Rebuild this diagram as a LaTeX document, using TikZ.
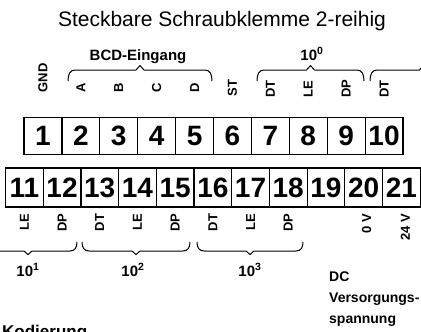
\documentclass[tikz,border=0pt]{standalone}
\usepackage{fontspec}
\setmainfont{Liberation Sans}
\usetikzlibrary{positioning,calc}

\tikzset{
  klemme/.style={draw,line width=1.2pt,minimum width=37.9pt,minimum height=37pt,inner sep=0pt,
    text height=20pt,text depth=0pt,font=\fontsize{28}{28}\selectfont\bfseries},
  pinlbl/.style={rotate=90,inner sep=0pt,font=\fontsize{13}{13}\selectfont\bfseries},
  grplbl/.style={inner sep=0pt,font=\fontsize{15}{15}\selectfont\bfseries},
  klammerlinie/.style={line width=1pt,line join=round}
}

% #1 x links, #2 x rechts, #3 y der Enden, #4 Hoehe (negativ = nach oben)
\newcommand{\klammer}[4]{%
  \draw[klammerlinie] (#1,#3)
    .. controls (#1,{#3+0.6*(#4)}) and ({#1+2},{#3+(#4)}) .. ({#1+7},{#3+(#4)})
    -- ({(#1+#2)/2-4},{#3+(#4)}) -- ({(#1+#2)/2},{#3+1.4*(#4)}) -- ({(#1+#2)/2+4},{#3+(#4)})
    -- ({#2-7},{#3+(#4)})
    .. controls ({#2-2},{#3+(#4)}) and (#2,{#3+0.6*(#4)}) .. (#2,#3);}

\begin{document}
\begin{tikzpicture}[x=1pt,y=-1pt]
  \useasboundingbox (0,0) rectangle (421,332);
  % Titel
  \node[anchor=base,inner sep=0pt,font=\fontsize{21}{21}\selectfont] (titel) at (222,27)
    {Steckbare Schraubklemme 2-reihig};
  % obere Reihe 1..10
  \foreach \i in {1,...,10}{
    \node[klemme] (t\i) at ({24+37.9*(\i-0.5)},135.75) {\i};
  }
  % untere Reihe 11..21
  \foreach \i in {11,...,21}{
    \node[klemme,minimum width=37.7pt,minimum height=39pt] (t\i) at ({5.5+37.7*(\i-10.5)},187.5) {\i};
  }
  % Anschlussbezeichnungen oben
  \foreach \i/\lbl/\dy in {1/GND/24,2/A/24,3/B/24,4/C/24,5/D/24,6/ST/20,7/DT/19,8/LE/19,9/DP/19,10/DT/19}{
    \node[pinlbl,anchor=west] (o\i) at ($(t\i.north)+(0,-\dy)$) {\lbl};
  }
  % Anschlussbezeichnungen unten
  \foreach \i/\lbl in {11/LE,12/DP,13/DT,14/LE,15/DP,16/DT,17/LE,18/DP}{
    \node[pinlbl,anchor=east] (u\i) at ($(t\i.south)+(0,6)$) {\lbl};
  }
  \node[pinlbl,anchor=east] (u20) at ($(t20.south)+(3,6)$) {0 V};
  \node[pinlbl,anchor=east] (u21) at ($(t21.south)+(4,6)$) {24 V};
  % Klammern
  \klammer{68}{212}{81}{-11}
  \klammer{257}{364}{81}{-11}
  \klammer{370}{477}{81}{-11}
  \klammer{-21}{77}{242}{9}
  \klammer{82}{190}{242}{9}
  \klammer{197}{303}{242}{9}
  % Gruppen
  \node[grplbl,anchor=base] (gbcd) at (138,60) {BCD-Eingang};
  \node[grplbl,anchor=base] (g0) at (312,60) {10\textsuperscript{0}};
  \node[grplbl,anchor=base] (g1) at (28,276) {10\textsuperscript{1}};
  \node[grplbl,anchor=base] (g2) at (133,276) {10\textsuperscript{2}};
  \node[grplbl,anchor=base] (g3) at (250,276) {10\textsuperscript{3}};
  \node[grplbl,anchor=north west,align=left,font=\fontsize{14}{21}\selectfont\bfseries] (dc) at (329,272)
    {DC\\Versorgungs-\\spannung};
  \node[anchor=base west,inner sep=0pt,font=\fontsize{17}{17}\selectfont\bfseries] (kod) at (2,337) {Kodierung};
\end{tikzpicture}
\end{document}
